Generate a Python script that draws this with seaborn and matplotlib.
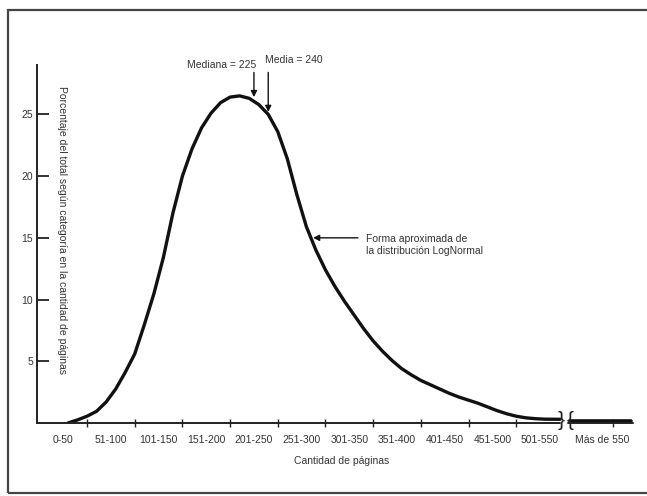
import matplotlib
matplotlib.use("Agg")
import matplotlib.pyplot as plt
import seaborn as sns
import pandas as pd
from matplotlib.patches import Rectangle

# ---- data ----
categorias = ["0-50", "51-100", "101-150", "151-200", "201-250", "251-300",
              "301-350", "351-400", "401-450", "451-500", "501-550", "Más de 550"]
centros_cat = [25, 75, 125, 175, 225, 275, 325, 375, 425, 475, 525, 590]
limites_cat = [50, 100, 150, 200, 250, 300, 350, 400, 450, 500, 602]

paginas = [30, 40, 50, 60, 70, 80, 90, 100, 110, 120, 130, 140, 150, 160, 170,
           180, 190, 200, 210, 220, 230, 240, 250, 260, 270, 280, 290, 300, 310,
           320, 330, 340, 350, 360, 370, 380, 390, 400, 410, 420, 430, 440, 450,
           460, 470, 480, 490, 500, 510, 520, 530, 546]
porcentaje = [0.0, 0.25, 0.55, 0.95, 1.7, 2.75, 4.1, 5.6, 7.95, 10.45, 13.4,
              17.0, 20.0, 22.2, 23.9, 25.1, 25.95, 26.4, 26.5, 26.3, 25.8, 25.0,
              23.6, 21.4, 18.5, 15.9, 14.0, 12.4, 11.05, 9.85, 8.75, 7.65, 6.65,
              5.8, 5.05, 4.4, 3.9, 3.45, 3.1, 2.75, 2.4, 2.1, 1.85, 1.6, 1.3,
              1.0, 0.75, 0.55, 0.42, 0.35, 0.31, 0.3]
paginas_mas = [556, 620]
porcentaje_mas = [0.15, 0.15]

mediana = 225
media = 240
y_ticks = [5, 10, 15, 20, 25]

sns.set_style("white")
plt.rcParams["font.family"] = ["Liberation Sans", "DejaVu Sans"]

W, H = 647, 496
fig = plt.figure(figsize=(W / 100, H / 100), dpi=100)
fig.patch.set_facecolor("white")

ax_l, ax_r, ax_t, ax_b = 37, 633, 65, 423
ax = fig.add_axes([ax_l / W, 1 - ax_b / H, (ax_r - ax_l) / W, (ax_b - ax_t) / H])
ax.set_facecolor("none")

df = pd.DataFrame({"paginas": paginas, "porcentaje": porcentaje})
df2 = pd.DataFrame({"paginas": paginas_mas, "porcentaje": porcentaje_mas})
sns.lineplot(data=df, x="paginas", y="porcentaje", ax=ax, color="#111111",
             lw=2.4, sort=True, estimator=None,
             solid_capstyle="round", solid_joinstyle="round")
sns.lineplot(data=df2, x="paginas", y="porcentaje", ax=ax, color="#111111",
             lw=2.6, estimator=None)

ax.set_xlim(-2.5, 622.5)
ax.set_ylim(0, 29.0)

for s in ["top", "right", "bottom"]:
    ax.spines[s].set_visible(False)
ax.spines["left"].set_color("#222222")
ax.spines["left"].set_linewidth(1.4)

# x axis with a break
brk1 = (560 - ax_l) / (ax_r - ax_l)
brk2 = (568 - ax_l) / (ax_r - ax_l)
ax.axhline(0, 0, brk1, color="#222222", lw=1.4, clip_on=False)
ax.axhline(0, brk2, 1, color="#222222", lw=1.4, clip_on=False)
ax.text(547, 0.2, "}", ha="center", va="center", fontsize=15, color="#222222",
        clip_on=False)
ax.text(557, 0.2, "{", ha="center", va="center", fontsize=15, color="#222222",
        clip_on=False)

# ticks
ax.set_yticks(y_ticks)
ax.set_yticklabels([str(v) for v in y_ticks])
ax.tick_params(axis="y", direction="in", length=8.6, width=1.3, color="#222222",
               labelsize=7.5, labelcolor="#333333", pad=3, left=True)
ax.set_xticks(limites_cat)
ax.set_xticklabels([""] * len(limites_cat))
ax.set_xticks(centros_cat, minor=True)
ax.set_xticklabels(categorias, minor=True)
ax.tick_params(axis="x", which="major", direction="inout", length=6, width=1.0,
               color="#222222", bottom=True)
ax.tick_params(axis="x", which="minor", length=0, labelsize=7.5,
               labelcolor="#333333", pad=8.5)

ax.set_xlabel("Cantidad de páginas", fontsize=7.5, color="#333333")
ax.xaxis.set_label_coords((342 - ax_l) / (ax_r - ax_l), (ax_b - 461) / (ax_b - ax_t))
ax.xaxis.label.set_va("center")
ax.set_ylabel("Porcentaje del total según categoría en la cantidad de páginas",
              fontsize=7.5, color="#333333", rotation=270)
ax.yaxis.set_label_coords((62 - ax_l) / (ax_r - ax_l), (ax_b - 230) / (ax_b - ax_t))
ax.yaxis.label.set_va("center")
ax.yaxis.label.set_ha("center")

# annotations
arrow = dict(arrowstyle="-|>", color="#111111", lw=1.0, mutation_scale=9,
             shrinkA=0, shrinkB=0)
ax.annotate("", xy=(mediana, 26.4), xytext=(mediana, 28.4), arrowprops=arrow,
            annotation_clip=False)
ax.annotate("", xy=(media, 25.2), xytext=(media, 28.4), arrowprops=arrow,
            annotation_clip=False)
ax.text(mediana + 2, 29.0, "Mediana = 225", ha="right", va="center", fontsize=7.5,
        color="#333333", clip_on=False)
ax.text(media - 3, 29.4, "Media = 240", ha="left", va="center", fontsize=7.5,
        color="#333333", clip_on=False)
ax.annotate("", xy=(287, 15.0), xytext=(334, 15.0), arrowprops=arrow)
ax.text(342, 14.4, "Forma aproximada de\nla distribución LogNormal", ha="left",
        va="center", fontsize=7.5, color="#333333", linespacing=1.25)

# outer frame of the figure
fig.add_artist(Rectangle((8 / W, 1 - 493 / H), 1.2, (493 - 10) / H, fill=False,
                         transform=fig.transFigure, lw=1.6, edgecolor="#444444"))

fig.savefig("out.png", dpi=100)
